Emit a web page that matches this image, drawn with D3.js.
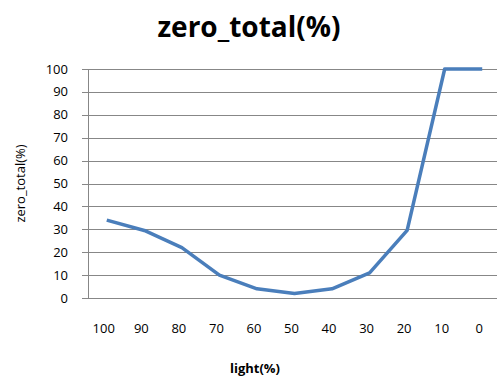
<!DOCTYPE html>
<html>
<head>
<meta charset="utf-8">
<script src="https://cdn.jsdelivr.net/npm/d3@7"></script>
<style>
  html, body { margin: 0; padding: 0; background: #fff; }
  svg { display: block; }
  text { font-family: "Open Sans", "Liberation Sans", sans-serif; fill: #000; }
</style>
</head>
<body>
<svg id="chart" width="497" height="380"></svg>
<script>
// light level (%) along the x axis, zero_total (%) measured at each level
const lightLevels = ["100", "90", "80", "70", "60", "50", "40", "30", "20", "10", "0"];
const zeroTotal = [34, 29.5, 22, 10, 4, 2, 4, 11, 29.5, 100, 100];
const yTicks = [0, 10, 20, 30, 40, 50, 60, 70, 80, 90, 100];

const svg = d3.select("#chart");
const margin = { left: 88, top: 69, right: -4, bottom: 82 };
const W = 497, H = 380;
const plotW = W - margin.left - margin.right;
const plotH = H - margin.top - margin.bottom;

const x = d3.scaleBand().domain(lightLevels).range([0, plotW]).padding(0);
const y = d3.scaleLinear().domain([0, 100]).range([plotH, 0]);

const g = svg.append("g").attr("transform", `translate(${margin.left},${margin.top})`);

// horizontal gridlines with short ticks to the left of the axis
g.append("g")
  .selectAll("line")
  .data(yTicks)
  .join("line")
  .attr("x1", -6)
  .attr("x2", plotW)
  .attr("y1", d => Math.round(y(d)) + 0.5)
  .attr("y2", d => Math.round(y(d)) + 0.5)
  .attr("stroke", "#878787")
  .attr("stroke-width", 1);

// vertical axis line
g.append("line")
  .attr("x1", 0.5).attr("x2", 0.5)
  .attr("y1", y(100)).attr("y2", y(0))
  .attr("stroke", "#878787");

// y tick labels
g.append("g")
  .selectAll("text")
  .data(yTicks)
  .join("text")
  .attr("x", -20)
  .attr("y", d => y(d))
  .attr("dy", "0.35em")
  .attr("text-anchor", "end")
  .attr("font-size", 13)
  .text(d => d);

// x tick labels
g.append("g")
  .selectAll("text")
  .data(lightLevels)
  .join("text")
  .attr("x", d => x(d) + x.bandwidth() / 2 - 3)
  .attr("y", plotH + 30)
  .attr("dy", "0.35em")
  .attr("text-anchor", "middle")
  .attr("font-size", 13)
  .text(d => d);

// the series line
const line = d3.line()
  .x((d, i) => x(lightLevels[i]) + x.bandwidth() / 2)
  .y(d => y(d));

g.append("path")
  .datum(zeroTotal)
  .attr("d", line)
  .attr("fill", "none")
  .attr("stroke", "#4a7ebb")
  .attr("stroke-width", 3.5)
  .attr("stroke-linejoin", "round");

// titles
svg.append("text")
  .attr("x", 249)
  .attr("y", 27)
  .attr("dy", "0.35em")
  .attr("text-anchor", "middle")
  .attr("font-size", 28)
  .attr("font-weight", "bold")
  .text("zero_total(%)");

svg.append("text")
  .attr("x", 255)
  .attr("y", 368)
  .attr("dy", "0.35em")
  .attr("text-anchor", "middle")
  .attr("font-size", 13)
  .attr("font-weight", "bold")
  .text("light(%)");

svg.append("text")
  .attr("transform", `translate(20,${margin.top + plotH / 2}) rotate(-90)`)
  .attr("dy", "0.35em")
  .attr("text-anchor", "middle")
  .attr("font-size", 13)
  .text("zero_total(%)");
</script>
</body>
</html>
